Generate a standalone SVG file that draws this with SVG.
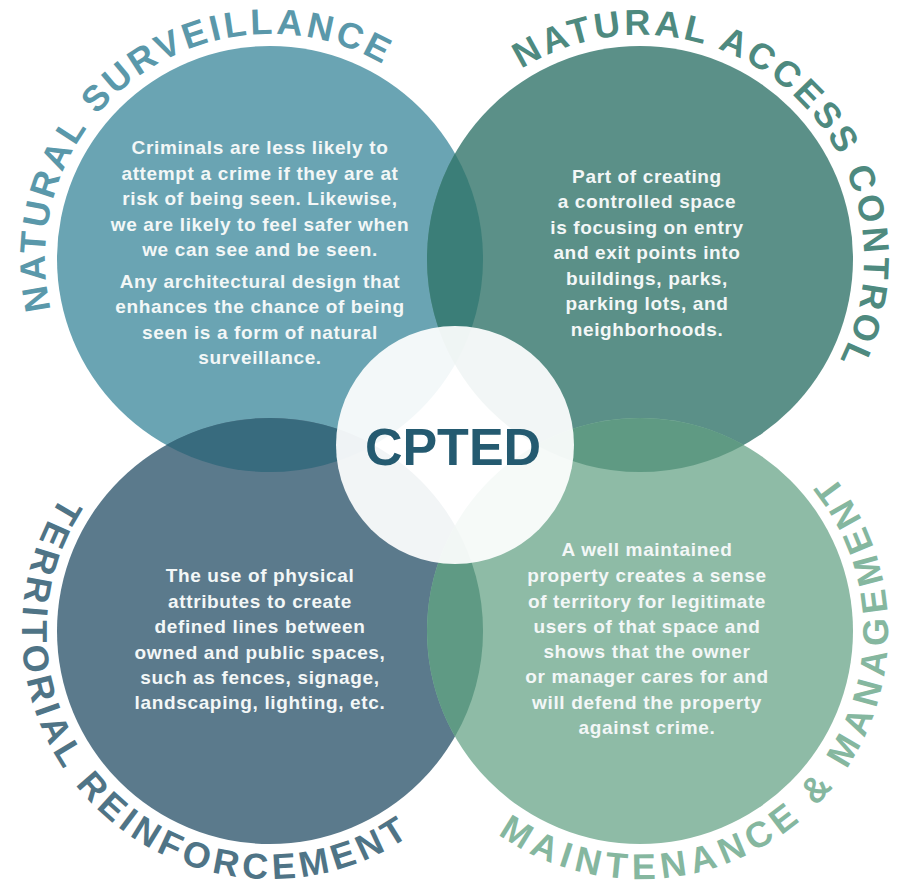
<svg xmlns="http://www.w3.org/2000/svg" width="903" height="887" viewBox="0 0 903 887">
<style>
.body{font-family:"Liberation Sans",Arial,sans-serif;font-weight:bold;font-size:19px;letter-spacing:0.65px;fill:#f3f7f7;text-anchor:middle}
.arc{font-family:"Liberation Sans",Arial,sans-serif;font-weight:bold;font-size:36px}
.cpted{font-family:"Liberation Sans",Arial,sans-serif;font-weight:bold;font-size:52px;fill:#245a70;text-anchor:middle}
</style>
<defs>
<path id="p-ns" d="M50.8,309.6 A225,225 0 0 1 382.5,64.1"/>
<path id="p-nac" d="M521.3,69 A224,224 0 0 1 839.6,360.7"/>
<path id="p-tr" d="M62,495.9 A248,248 0 0 0 408.7,836.6"/>
<path id="p-mm" d="M497.7,834.2 A248,248 0 0 0 832.7,474.9"/>
</defs>
<rect width="903" height="887" fill="#ffffff"/>

<g id="natural-surveillance">
<circle cx="270" cy="259" r="213" fill="#6aa4b3"/>
<text class="arc" fill="#5a98aa" textLength="522" lengthAdjust="spacing"><textPath href="#p-ns">NATURAL SURVEILLANCE</textPath></text>
<text class="body" x="260" y="154">Criminals are less likely to</text>
<text class="body" x="260" y="179.5">attempt a crime if they are at</text>
<text class="body" x="260" y="205">risk of being seen. Likewise,</text>
<text class="body" x="260" y="230.5">we are likely to feel safer when</text>
<text class="body" x="260" y="256">we can see and be seen.</text>
<text class="body" x="260" y="288">Any architectural design that</text>
<text class="body" x="260" y="313">enhances the chance of being</text>
<text class="body" x="260" y="338.5">seen is a form of natural</text>
<text class="body" x="260" y="364">surveillance.</text>
</g>

<g id="natural-access-control">
<circle cx="640" cy="259" r="213" fill="#5b9088"/>
<text class="arc" fill="#4e8a7f" textLength="582" lengthAdjust="spacing"><textPath href="#p-nac">NATURAL ACCESS CONTROL</textPath></text>
<text class="body" x="647" y="182.5">Part of creating</text>
<text class="body" x="647" y="208">a controlled space</text>
<text class="body" x="647" y="233.5">is focusing on entry</text>
<text class="body" x="647" y="259">and exit points into</text>
<text class="body" x="647" y="284.5">buildings, parks,</text>
<text class="body" x="647" y="310">parking lots, and</text>
<text class="body" x="647" y="335.5">neighborhoods.</text>
</g>

<g id="territorial-reinforcement">
<circle cx="270" cy="631" r="213" fill="#5b7a8c"/>
<text class="arc" fill="#4f7486" textLength="680" lengthAdjust="spacing"><textPath href="#p-tr">TERRITORIAL REINFORCEMENT</textPath></text>
<text class="body" x="260" y="582">The use of physical</text>
<text class="body" x="260" y="607.5">attributes to create</text>
<text class="body" x="260" y="633">defined lines between</text>
<text class="body" x="260" y="658.5">owned and public spaces,</text>
<text class="body" x="260" y="683.5">such as fences, signage,</text>
<text class="body" x="260" y="709">landscaping, lighting, etc.</text>
</g>

<g id="maintenance-management">
<circle cx="640" cy="631" r="213" fill="#8ebba6"/>
<text class="arc" fill="#85b79f" textLength="710" lengthAdjust="spacing"><textPath href="#p-mm">MAINTENANCE &amp; MANAGEMENT</textPath></text>
<text class="body" x="647" y="556">A well maintained</text>
<text class="body" x="647" y="582">property creates a sense</text>
<text class="body" x="647" y="607.5">of territory for legitimate</text>
<text class="body" x="647" y="632.5">users of that space and</text>
<text class="body" x="647" y="658">shows that the owner</text>
<text class="body" x="647" y="683">or manager cares for and</text>
<text class="body" x="647" y="709">will defend the property</text>
<text class="body" x="647" y="734">against crime.</text>
</g>

<g id="overlaps">
<path d="M455,153.4 A213,213 0 0 1 455,364.6 A213,213 0 0 1 455,153.4 Z" fill="#3b7e78"/>
<path d="M166.2,445 A213,213 0 0 1 373.8,445 A213,213 0 0 1 166.2,445 Z" fill="#386b7e"/>
<path d="M536.2,445 A213,213 0 0 1 743.8,445 A213,213 0 0 1 536.2,445 Z" fill="#5f9a83"/>
<path d="M455,525.4 A213,213 0 0 1 455,736.6 A213,213 0 0 1 455,525.4 Z" fill="#5f9a84"/>
</g>

<g id="cpted">
<circle cx="455" cy="445" r="119" fill="#ffffff" fill-opacity="0.92"/>
<text class="cpted" x="453" y="465">CPTED</text>
</g>
</svg>
